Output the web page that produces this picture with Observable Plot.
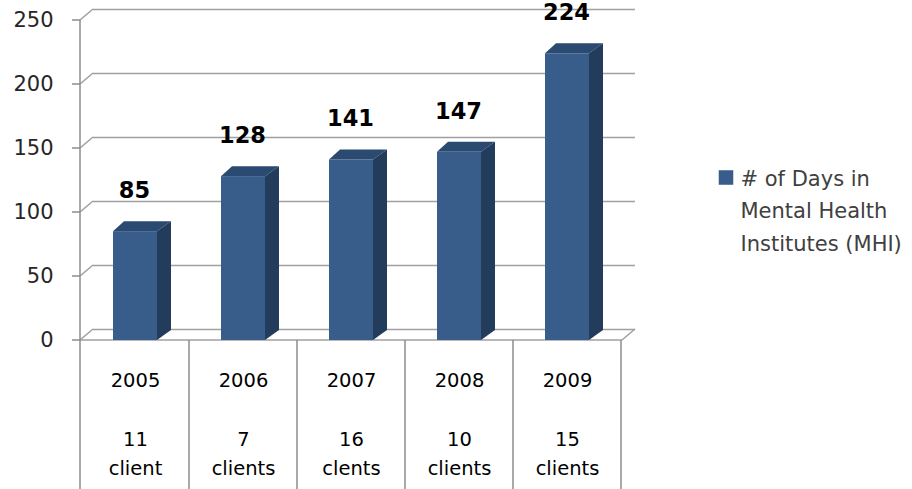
<!DOCTYPE html>
<html><head><meta charset="utf-8">
<script src="https://cdn.jsdelivr.net/npm/d3@7"></script>
<script src="https://cdn.jsdelivr.net/npm/@observablehq/plot@0.6"></script>
<style>body{margin:0;background:#fff}</style>
</head><body><div id="chart"></div>
<script>
const years = ["2005", "2006", "2007", "2008", "2009"];
const days = [85, 128, 141, 147, 224];
const clientCounts = ["11", "7", "16", "10", "15"];
const clientUnits = ["client", "clients", "clents", "clients", "clients"];
const yTicks = [0, 50, 100, 150, 200, 250];
const seriesName = "# of Days in\nMental Health\nInstitutes (MHI)";

const data = years.map((year, i) => ({year, days: days[i], count: clientCounts[i], unit: clientUnits[i]}));

const FRONT = "#385D8A", SIDE = "#233C5B", TOP = "#2B4A71", GRID = "#A0A0A0", LINE = "#8C8C8C";
const WALL_DX = 13, WALL_DY = 11;
const BAR_DX = 14, BAR_DY = 10, INSET = 32;

function frameLines(index, scales, values, dim) {
  const {x, y} = scales;
  const left = dim.marginLeft, right = dim.width - dim.marginRight, bottom = dim.height - dim.marginBottom;
  const g = d3.create("svg:g").attr("fill", "none").attr("stroke", LINE).attr("stroke-width", 1.5);
  for (const t of yTicks) {
    const py = y(t);
    g.append("line").attr("x1", left - 8).attr("x2", left).attr("y1", py).attr("y2", py);
    g.append("line").attr("x1", left).attr("y1", py).attr("x2", left + WALL_DX).attr("y2", py - WALL_DY).attr("stroke", GRID);
  }
  g.append("line").attr("x1", right).attr("y1", bottom).attr("x2", right + WALL_DX).attr("y2", bottom - WALL_DY).attr("stroke", GRID);
  g.append("line").attr("x1", left).attr("y1", bottom).attr("x2", right).attr("y2", bottom).attr("stroke", GRID);
  g.append("line").attr("x1", left).attr("y1", y(yTicks[yTicks.length - 1])).attr("x2", left).attr("y2", dim.height);
  const bw = x.bandwidth();
  for (const yr of years) {
    const px = x(yr) + bw;
    g.append("line").attr("x1", px).attr("x2", px).attr("y1", bottom).attr("y2", dim.height);
  }
  return g.node();
}

function barDepth(index, scales, values, dim) {
  const {x, y} = scales;
  const bw = x.bandwidth();
  const g = d3.create("svg:g");
  for (const d of data) {
    const xa = x(d.year) + INSET, xb = x(d.year) + bw - INSET, yt = y(d.days), y0 = y(0);
    g.append("path").attr("fill", TOP)
      .attr("d", `M${xa},${yt}L${xb},${yt}L${xb + BAR_DX},${yt - BAR_DY}L${xa + 11},${yt - BAR_DY}Z`);
    g.append("path").attr("fill", SIDE)
      .attr("d", `M${xb},${yt}L${xb + BAR_DX},${yt - BAR_DY}L${xb + BAR_DX},${y0 - BAR_DY}L${xb},${y0}Z`);
  }
  return g.node();
}

const chart = Plot.plot({
  width: 912,
  height: 489,
  marginLeft: 80,
  marginRight: 290,
  marginTop: 20,
  marginBottom: 149,
  style: {fontFamily: "DejaVu Sans", fontSize: "21px", color: "#262626", background: "white"},
  x: {domain: years, padding: 0, axis: null},
  y: {domain: [0, 250], ticks: yTicks, tickSize: 0, tickPadding: 27, label: null},
  marks: [
    Plot.ruleY(yTicks, {dx: WALL_DX, dy: -WALL_DY, stroke: GRID, strokeWidth: 1.5}),
    frameLines,
    Plot.barY(data, {x: "year", y: "days", fill: FRONT, insetLeft: INSET, insetRight: INSET}),
    barDepth,
    Plot.text(data, {x: "year", y: "days", text: d => String(d.days), dy: -41, dx: -1, fontSize: 22.5, fontWeight: "bold", fill: "#000"}),
    Plot.text(data, {x: "year", text: d => `${d.year}\n\n${d.count}\n${d.unit}`, frameAnchor: "bottom", lineAnchor: "top", dy: 25, fontSize: 19.5, lineHeight: 1.52, fill: "#000"}),
    Plot.dot([seriesName], {frameAnchor: "right", dx: 103.5, dy: -3, symbol: "square", r: 8.2, fill: FRONT}),
    Plot.text([seriesName], {text: d => d, frameAnchor: "right", dx: 118, dy: -18, textAnchor: "start", lineAnchor: "top", fontSize: 21, lineHeight: 1.55, fill: "#404040"})
  ]
});
document.getElementById("chart").appendChild(chart);
</script>
</body></html>
